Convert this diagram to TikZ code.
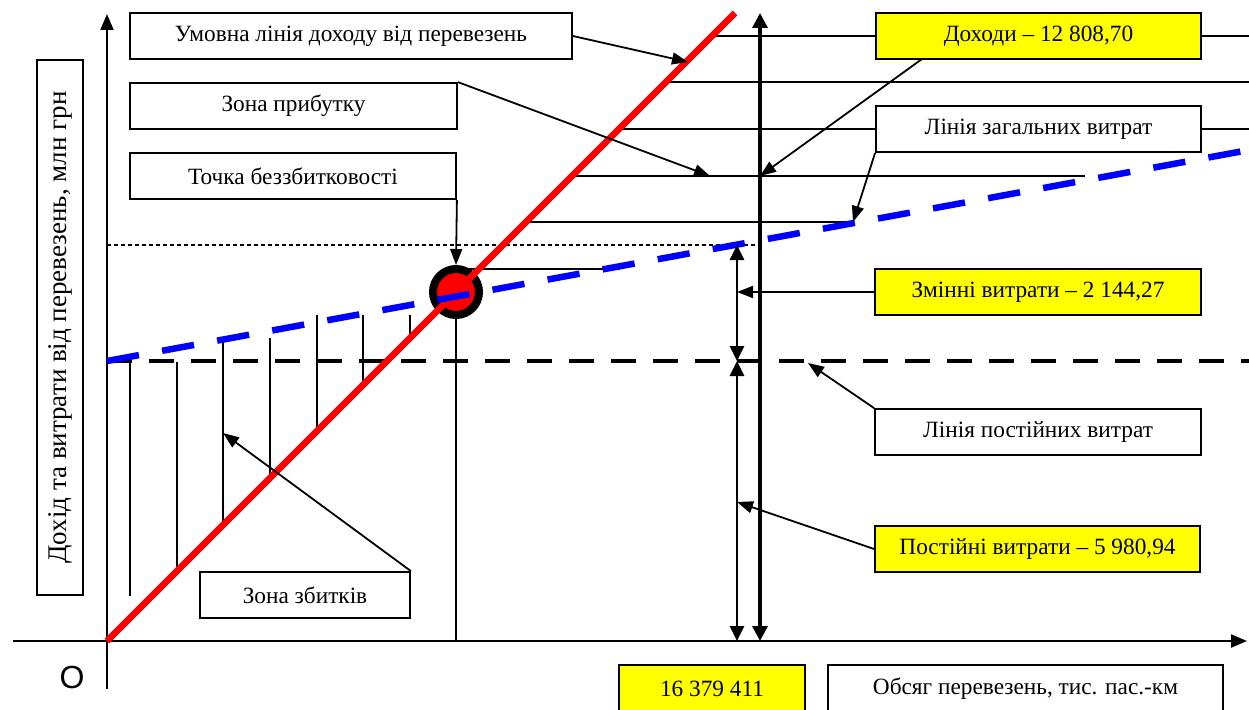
\documentclass[tikz,border=0pt]{standalone}
\usepackage{fontspec}
\setmainfont{Liberation Serif}
\setsansfont{Liberation Sans}
\usetikzlibrary{arrows.meta,calc}
\definecolor{yel}{RGB}{255,255,0}
\definecolor{redl}{RGB}{255,0,0}
\definecolor{bluel}{RGB}{0,0,255}
\begin{document}
\begin{tikzpicture}[x=1pt,y=-1pt,
  box/.style={draw, line width=1.8pt, fill=white, minimum height=46pt, inner sep=0pt, font=\fontsize{23.3}{26}\selectfont},
  ybox/.style={box, fill=yel},
  hatch/.style={line width=1.8pt},
  arr/.style={line width=1.8pt, -{Triangle[length=16pt,width=12pt]}},
  thickarr/.style={line width=3.4pt, {Triangle[length=15pt,width=15pt]}-{Triangle[length=15pt,width=15pt]}},
  midarr/.style={line width=2.8pt, {Triangle[length=15pt,width=14pt]}-{Triangle[length=15pt,width=14pt]}},
  axis/.style={line width=2.2pt, -{Triangle[length=16pt,width=13pt]}}
]
\useasboundingbox (0,0) rectangle (1249,709);

% profit-zone hatching
\draw[hatch] (712,36) -- (1249,36);
\draw[hatch] (665,82) -- (1249,82);
\draw[hatch] (619,129) -- (1249,129);
\draw[hatch] (572,176) -- (1085,176);
\draw[hatch] (526,222) -- (853,222);
\draw[hatch] (468,269) -- (620,269);

% loss-zone hatching
\draw[hatch] (130,362) -- (130,596);
\draw[hatch] (177,362) -- (177,571);
\draw[hatch] (223,338) -- (223,525);
\draw[hatch] (270,338) -- (270,478);
\draw[hatch] (317,315) -- (317,431);
\draw[hatch] (363,315) -- (363,385);
\draw[hatch] (410,315) -- (410,338);

% thin dashed level line
\draw[line width=1.3pt, dash pattern=on 4pt off 3pt] (107,245) -- (760,245);

% break-even vertical
\draw[hatch] (456,291) -- (456,641);

% axes
\coordinate (O) at (107,641);
\coordinate (ybot) at (107,689);
\coordinate (ytop) at (107,14);
\coordinate (xl) at (13,641);
\coordinate (xr) at (1247,641);
\draw[axis] (ybot) -- (ytop);
\draw[axis] (xl) -- (xr);
\node[font=\sffamily\fontsize{32}{32}\selectfont, inner sep=0pt] (orig) at (72,677) {O};

% fixed cost line
\draw[line width=4pt, dash pattern=on 25pt off 17pt] (107,361) -- (1249,361);

% break-even point
\node[circle, draw, line width=8pt, fill=redl, minimum size=46pt, inner sep=0pt] (be) at (456,292) {};

% revenue line
\coordinate (rtop) at (735,13);
\draw[line width=6.5pt, redl] (O) -- (rtop);
% total cost line
\coordinate (bstart) at (107,361);
\coordinate (bend) at (1249,150);
\draw[line width=6.5pt, bluel, dash pattern=on 32.5pt off 23.5pt] (bstart) -- (bend);

% vertical measuring arrows
\coordinate (v1top) at (760,13);
\coordinate (v1bot) at (760,641);
\draw[thickarr] (v1top) -- (v1bot);
\coordinate (v2a) at (737,245);
\coordinate (v2b) at (737,361);
\coordinate (v2c) at (737,641);
\draw[midarr] (v2a) -- (v2b);
\draw[midarr] (v2b) -- (v2c);

% boxes
\node[box, minimum width=442pt] (umov) at (351,36) {Умовна лінія доходу від перевезень};
\node[box, minimum width=327pt] (zona) at (293.5,106) {Зона прибутку};
\node[box, minimum width=326pt] (tochka) at (293,176) {Точка беззбитковості};
\node[ybox, minimum width=325pt] (dokh) at (1038.5,36) {Доходи – 12 808,70};
\node[box, minimum width=325pt] (zah) at (1038.5,129) {Лінія загальних витрат};
\node[ybox, minimum width=326pt] (zmin) at (1038,292) {Змінні витрати – 2 144,27};
\node[box, minimum width=326pt] (post) at (1038,432) {Лінія постійних витрат};
\node[ybox, minimum width=325pt] (postv) at (1037.5,549) {Постійні витрати – 5 980,94};
\node[ybox, minimum width=186pt, minimum height=47pt] (vol) at (712,688.5) {16 379 411};
\node[box, minimum width=395pt, minimum height=47pt] (obs) at (1025.5,688.5) {Обсяг перевезень, тис. пас.-км};
\node[box, minimum width=210pt] (zb) at (305,595) {Зона збитків};
\node[box, rotate=90, minimum width=535pt, font=\fontsize{27}{30}\selectfont] (ylab) at (60,327.5) {Дохід та витрати від перевезень, млн грн};

% pointer arrows
\coordinate (p1) at (688,62);
\draw[arr] (umov.east) -- (p1);
\coordinate (p2) at (710,176);
\draw[arr] (zona.north east) -- (p2);
\coordinate (p3) at (456,265);
\draw[arr] (tochka.south east) -- (p3);
\coordinate (d0) at (922,59);
\coordinate (p4) at (760,176);
\draw[arr] (d0) -- (p4);
\coordinate (p5) at (853,222);
\draw[arr] (zah.south west) -- (p5);
\coordinate (p6) at (737,292);
\draw[arr] (zmin.west) -- (p6);
\coordinate (p7) at (808,363);
\draw[arr] (post.north west) -- (p7);
\coordinate (p8) at (737,502);
\draw[arr] (postv.west) -- (p8);
\coordinate (p9) at (223,433);
\draw[arr] (zb.north east) -- (p9);
\end{tikzpicture}
\end{document}
